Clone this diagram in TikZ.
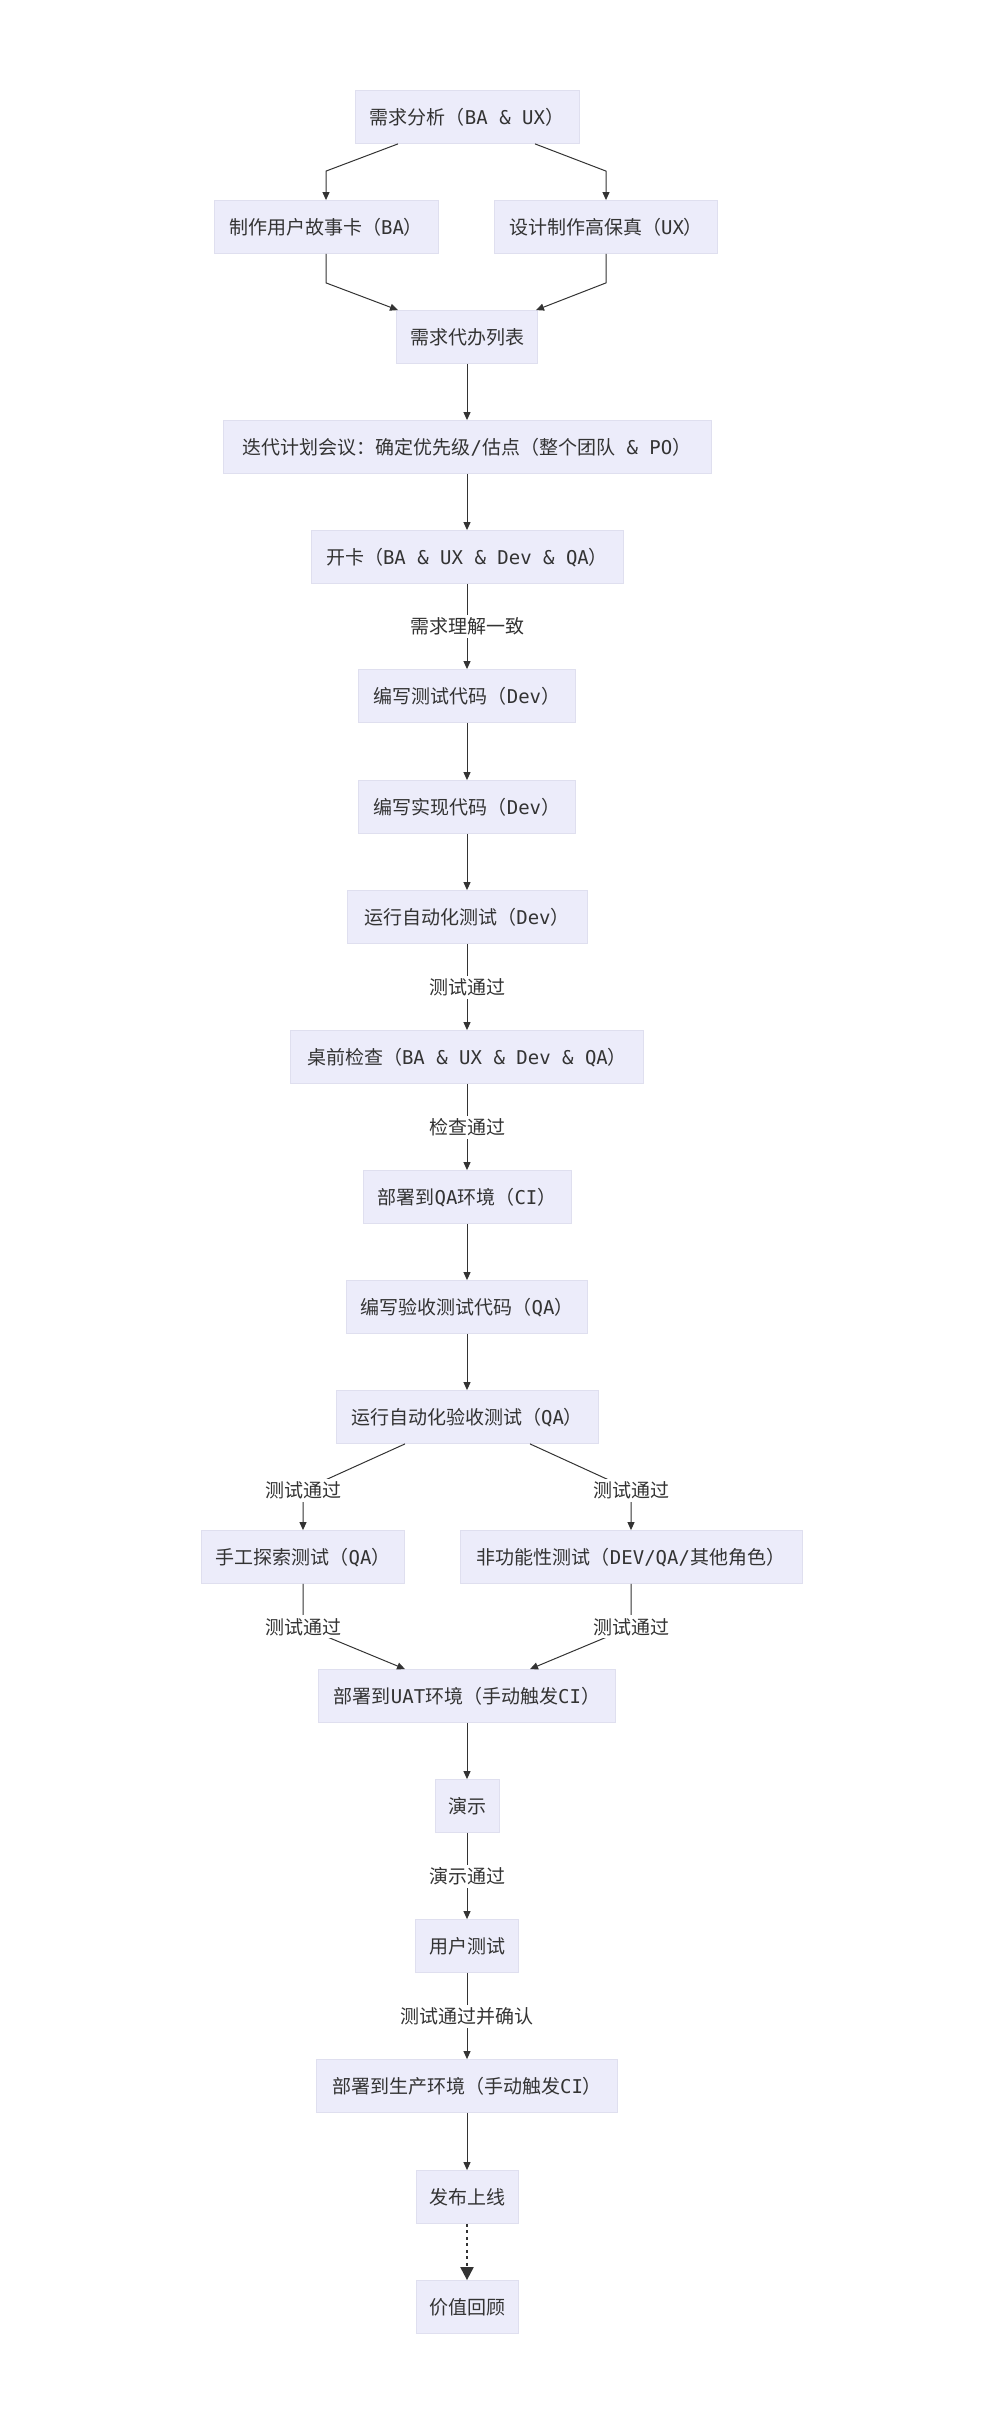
\documentclass[tikz,border=0pt]{standalone}
\usepackage{fontspec}
\setmainfont{Noto Sans CJK SC}
\newfontfamily\dvmono{DejaVu Sans Mono}
\newcommand{\lat}[1]{{\dvmono #1}}
\usepackage{tikz}
\usetikzlibrary{arrows.meta}
\definecolor{boxfill}{HTML}{ECECFA}
\definecolor{boxline}{HTML}{DFDFEF}
\definecolor{inkc}{HTML}{333333}

\begin{document}
\begin{tikzpicture}[x=1pt,y=-1pt,
  font=\fontsize{19}{23}\selectfont, text=inkc,
  box/.style={draw=boxline,line width=0.8pt,fill=boxfill,minimum height=53pt,
              inner xsep=10pt,text height=16.7pt,text depth=2.3pt},
  lab/.style={fill=white,inner sep=2pt,text height=16.7pt,text depth=2.3pt},
  arr/.style={draw=inkc,line width=1pt,-{Triangle[length=8pt,width=7pt]}},
  dots/.style={draw=inkc,line width=2pt,dash pattern=on 3pt off 3.5pt,
               -{Triangle[length=13pt,width=13pt]}},
]
\useasboundingbox (0,0) rectangle (1000,2424);

\node[box,minimum width=224pt] (req) at (467,117) {需求分析（\lat{BA \& UX}）};
\node[box,minimum width=224pt] (story) at (326,227) {制作用户故事卡（\lat{BA}）};
\node[box,minimum width=223pt] (hifi) at (606,227) {设计制作高保真（\lat{UX}）};
\node[box,minimum width=141pt] (backlog) at (467,337) {需求代办列表};
\node[box,minimum width=488pt] (plan) at (467,447)
  {迭代计划会议：确定优先级\lat{/}估点（整个团队\lat{ \& PO}）};
\node[box,minimum width=312pt] (kickoff) at (467,557) {开卡（\lat{BA \& UX \& Dev \& QA}）};
\node[box,minimum width=217pt] (wtest) at (467,696) {编写测试代码（\lat{Dev}）};
\node[box,minimum width=217pt] (wcode) at (467,807) {编写实现代码（\lat{Dev}）};
\node[box,minimum width=240pt] (runtest) at (467,917) {运行自动化测试（\lat{Dev}）};
\node[box,minimum width=353pt] (desk) at (467,1057) {桌前检查（\lat{BA \& UX \& Dev \& QA}）};
\node[box,minimum width=208pt] (qaenv) at (467,1197) {部署到\lat{QA}环境（\lat{CI}）};
\node[box,minimum width=241pt] (wacc) at (467,1307) {编写验收测试代码（\lat{QA}）};
\node[box,minimum width=262pt] (runacc) at (467,1417) {运行自动化验收测试（\lat{QA}）};
\node[box,minimum width=203pt] (manual) at (303,1557) {手工探索测试（\lat{QA}）};
\node[box,minimum width=342pt] (nonfunc) at (631,1557) {非功能性测试（\lat{DEV/QA/}其他角色）};
\node[box,minimum width=297pt] (uat) at (467,1696) {部署到\lat{UAT}环境（手动触发\lat{CI}）};
\node[box,minimum width=64pt] (demo) at (467,1806) {演示};
\node[box,minimum width=103pt] (usertest) at (467,1946) {用户测试};
\node[box,minimum width=301pt] (prod) at (467,2086) {部署到生产环境（手动触发\lat{CI}）};
\node[box,minimum width=102pt] (release) at (467,2197) {发布上线};
\node[box,minimum width=102pt] (retro) at (467,2307) {价值回顾};

\draw[arr] ([xshift=-69pt]req.south) -- ([yshift=29pt]story.north) -- (story.north);
\draw[arr] ([xshift=68pt]req.south) -- ([yshift=29pt]hifi.north) -- (hifi.north);
\draw[arr] (story.south) -- ([yshift=-29pt]story.south) -- ([xshift=-69pt]backlog.north);
\draw[arr] (hifi.south) -- ([yshift=-29pt]hifi.south) -- ([xshift=69pt]backlog.north);
\draw[arr] (backlog) -- (plan);
\draw[arr] (plan) -- (kickoff);
\draw[arr] (kickoff) -- node[lab] {需求理解一致} (wtest);
\draw[arr] (wtest) -- (wcode);
\draw[arr] (wcode) -- (runtest);
\draw[arr] (runtest) -- node[lab] {测试通过} (desk);
\draw[arr] (desk) -- node[lab] {检查通过} (qaenv);
\draw[arr] (qaenv) -- (wacc);
\draw[arr] (wacc) -- (runacc);
\draw[arr] ([xshift=-62pt]runacc.south) -- ([yshift=40pt]manual.north)
  node[lab] {测试通过} -- (manual.north);
\draw[arr] ([xshift=63pt]runacc.south) -- ([yshift=40pt]nonfunc.north)
  node[lab] {测试通过} -- (nonfunc.north);
\draw[arr] (manual.south) -- ([yshift=-43pt]manual.south)
  node[lab] {测试通过} -- ([xshift=-62pt]uat.north);
\draw[arr] (nonfunc.south) -- ([yshift=-43pt]nonfunc.south)
  node[lab] {测试通过} -- ([xshift=63pt]uat.north);
\draw[arr] (uat) -- (demo);
\draw[arr] (demo) -- node[lab] {演示通过} (usertest);
\draw[arr] (usertest) -- node[lab] {测试通过并确认} (prod);
\draw[arr] (prod) -- (release);
\draw[dots] (release) -- (retro);
\end{tikzpicture}
\end{document}
